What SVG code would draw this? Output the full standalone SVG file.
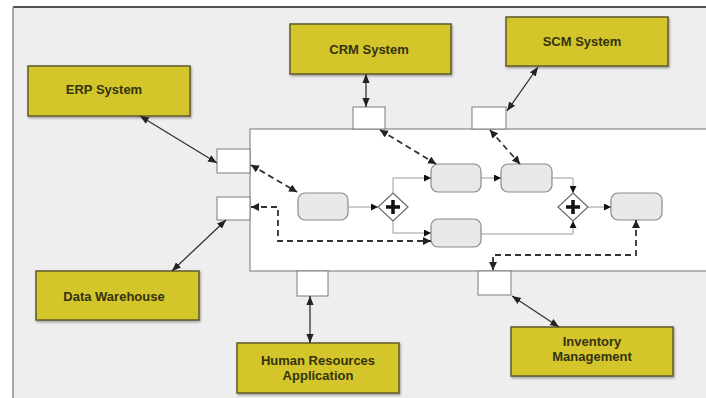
<svg xmlns="http://www.w3.org/2000/svg" width="706" height="398" viewBox="0 0 706 398">
<defs>
<style>
.sys rect{fill:#d3c52a;stroke:#5e5a2e;stroke-width:1.5}
.sys text{font-family:"Liberation Sans",Arial,sans-serif;font-weight:bold;font-size:13px;fill:#34330f;text-anchor:middle}
.port{fill:#ffffff;stroke:#7a7a7a;stroke-width:1}
.task{fill:#e8e8e8;stroke:#8a8a8a;stroke-width:1.2}
.gw{fill:#ffffff;stroke:#6a6a6a;stroke-width:1.2}
.plus{stroke:#111;stroke-width:3.5;fill:none}
.seq{fill:none;stroke:#9a9a9a;stroke-width:1}
.msg{fill:none;stroke:#333;stroke-width:1.8;stroke-dasharray:6,4}
.assoc{fill:none;stroke:#333;stroke-width:1.3}
</style>
<marker id="ah" viewBox="0 0 10 10" refX="10" refY="5" markerWidth="8" markerHeight="8" orient="auto-start-reverse" markerUnits="userSpaceOnUse">
<path d="M0,0 L10,5 L0,10 z" fill="#222"/>
</marker>
<marker id="ahs" viewBox="0 0 10 10" refX="10" refY="5" markerWidth="7" markerHeight="7" orient="auto" markerUnits="userSpaceOnUse">
<path d="M0,0 L10,5 L0,10 z" fill="#111"/>
</marker>
<marker id="ahb" viewBox="0 0 10 10" refX="10" refY="5" markerWidth="9" markerHeight="9" orient="auto-start-reverse" markerUnits="userSpaceOnUse">
<path d="M0,1 L10,5 L0,9 z" fill="#222"/>
</marker>
<filter id="sh" x="-5%" y="-10%" width="112%" height="130%">
<feDropShadow dx="1" dy="1.5" stdDeviation="1" flood-color="#000" flood-opacity="0.35"/>
</filter>
</defs>
<rect x="0" y="0" width="706" height="398" fill="#ffffff"/>
<rect x="13" y="7" width="693" height="391" fill="#eeeeee"/>
<line x1="13" y1="7" x2="706" y2="7" stroke="#1a1a1a" stroke-width="1.5"/>
<line x1="13" y1="7" x2="13" y2="398" stroke="#888" stroke-width="1.5"/>

<g id="pool">
<rect x="250" y="129" width="460" height="142" fill="#ffffff" stroke="#8a8a8a" stroke-width="1.2"/>
</g>

<g id="port-erp"><rect class="port" x="217" y="149" width="33" height="24"/></g>
<g id="port-dw"><rect class="port" x="217" y="197" width="33" height="23"/></g>
<g id="port-crm"><rect class="port" x="353" y="107" width="32" height="22"/></g>
<g id="port-scm"><rect class="port" x="472" y="107" width="34" height="22"/></g>
<g id="port-hr"><rect class="port" x="297" y="271" width="31" height="25"/></g>
<g id="port-inv"><rect class="port" x="478" y="271" width="33" height="24"/></g>

<g id="erp" class="sys"><rect x="28" y="66" width="162" height="50" filter="url(#sh)"/><text x="104" y="94">ERP System</text></g>
<g id="crm" class="sys"><rect x="290" y="24" width="161" height="50" filter="url(#sh)"/><text x="369" y="54">CRM System</text></g>
<g id="scm" class="sys"><rect x="506" y="17" width="162" height="49" filter="url(#sh)"/><text x="582" y="46">SCM System</text></g>
<g id="dw" class="sys"><rect x="36" y="271" width="163" height="49" filter="url(#sh)"/><text x="114" y="301">Data Warehouse</text></g>
<g id="hr" class="sys"><rect x="237" y="343" width="162" height="50" filter="url(#sh)"/><text x="318" y="365">Human Resources</text><text x="318" y="380">Application</text></g>
<g id="inv" class="sys"><rect x="511" y="327" width="162" height="49" filter="url(#sh)"/><text x="592" y="346">Inventory</text><text x="592" y="361">Management</text></g>

<g id="task1"><rect class="task" x="298" y="193" width="50" height="27" rx="7"/></g>
<g id="task2"><rect class="task" x="431" y="164" width="50" height="28" rx="7"/></g>
<g id="task3"><rect class="task" x="501" y="164" width="51" height="28" rx="7"/></g>
<g id="task4"><rect class="task" x="431" y="219" width="50" height="28" rx="7"/></g>
<g id="task5"><rect class="task" x="611" y="193" width="51" height="27" rx="7"/></g>

<g id="gateway1"><path class="gw" d="M393,193 L408,207 L393,221 L378,207 Z"/><path class="plus" d="M393,200 V214 M386,207 H400"/></g>
<g id="gateway2"><path class="gw" d="M573,193 L588,207 L573,221 L558,207 Z"/><path class="plus" d="M573,200 V214 M566,207 H580"/></g>

<g id="connectors">
<path class="seq" d="M348,207 H378" marker-end="url(#ahs)"/>
<path class="seq" d="M393,193 V178 H431" marker-end="url(#ahs)"/>
<path class="seq" d="M393,221 V233 H431" marker-end="url(#ahs)"/>
<path class="seq" d="M481,178 H501" marker-end="url(#ahs)"/>
<path class="seq" d="M552,178 H573 V193" marker-end="url(#ahs)"/>
<path class="seq" d="M481,234 H573 V221" marker-end="url(#ahs)"/>
<path class="seq" d="M588,207 H611" marker-end="url(#ahs)"/>

<path class="msg" d="M251,165 L297,192" marker-start="url(#ah)" marker-end="url(#ah)"/>
<path class="msg" d="M380,130 L436,164" marker-start="url(#ah)" marker-end="url(#ah)"/>
<path class="msg" d="M490,130 L520,164" marker-start="url(#ah)" marker-end="url(#ah)"/>
<path class="msg" d="M251,207 H278 V241 H431" marker-start="url(#ah)" marker-end="url(#ah)"/>
<path class="msg" d="M636,220 V255 H493 V270" marker-start="url(#ah)" marker-end="url(#ah)"/>

<path class="assoc" d="M140,116 L217,163" marker-start="url(#ahb)" marker-end="url(#ahb)"/>
<path class="assoc" d="M366,74 V107" marker-start="url(#ahb)" marker-end="url(#ahb)"/>
<path class="assoc" d="M538,67 L507,111" marker-start="url(#ahb)" marker-end="url(#ahb)"/>
<path class="assoc" d="M226,220 L172,271" marker-start="url(#ahb)" marker-end="url(#ahb)"/>
<path class="assoc" d="M310,296 V343" marker-start="url(#ahb)" marker-end="url(#ahb)"/>
<path class="assoc" d="M512,296 L559,327" marker-start="url(#ahb)" marker-end="url(#ahb)"/>
</g>
</svg>
